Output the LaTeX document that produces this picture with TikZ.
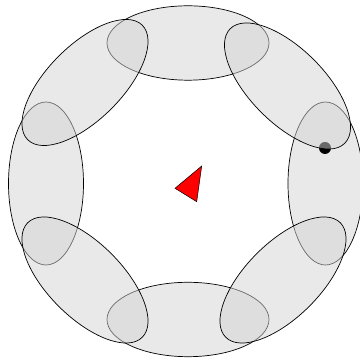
\documentclass[tikz,border=0pt]{standalone}
\begin{document}
\begin{tikzpicture}[x=1pt,y=1pt,
  ring/.style={draw=black, line width=0.7pt, fill={rgb,255:red,211;green,211;blue,211}, fill opacity=0.5},
  robot/.style={draw=black, line width=0.5pt, fill=red}]
\useasboundingbox (0,0) rectangle (360,358);
% axis-aligned ellipses
\draw[ring] (188,315) ellipse [x radius=81, y radius=37.2];
\draw[ring] (188,38.5) ellipse [x radius=81, y radius=37.2];
\draw[ring] (46,174.5) ellipse [x radius=37.5, y radius=81.5];
\draw[ring] (325.5,174.5) ellipse [x radius=37.5, y radius=81.5];
% dot
\fill[black] (325,210) circle [radius=6];
% diagonal ellipses
\draw[ring, rotate around={45:(85,275.5)}] (85,275.5) ellipse [x radius=81, y radius=37.2];
\draw[ring, rotate around={-45:(287.5,272)}] (287.5,272) ellipse [x radius=81, y radius=37.2];
\draw[ring, rotate around={45:(283,78)}] (283,78) ellipse [x radius=81, y radius=37.2];
\draw[ring, rotate around={-45:(85,78)}] (85,78) ellipse [x radius=81, y radius=37.2];
% triangle
\draw[robot] (201.7,192) -- (175,169.7) -- (196.7,156.3) -- cycle;
\end{tikzpicture}
\end{document}
